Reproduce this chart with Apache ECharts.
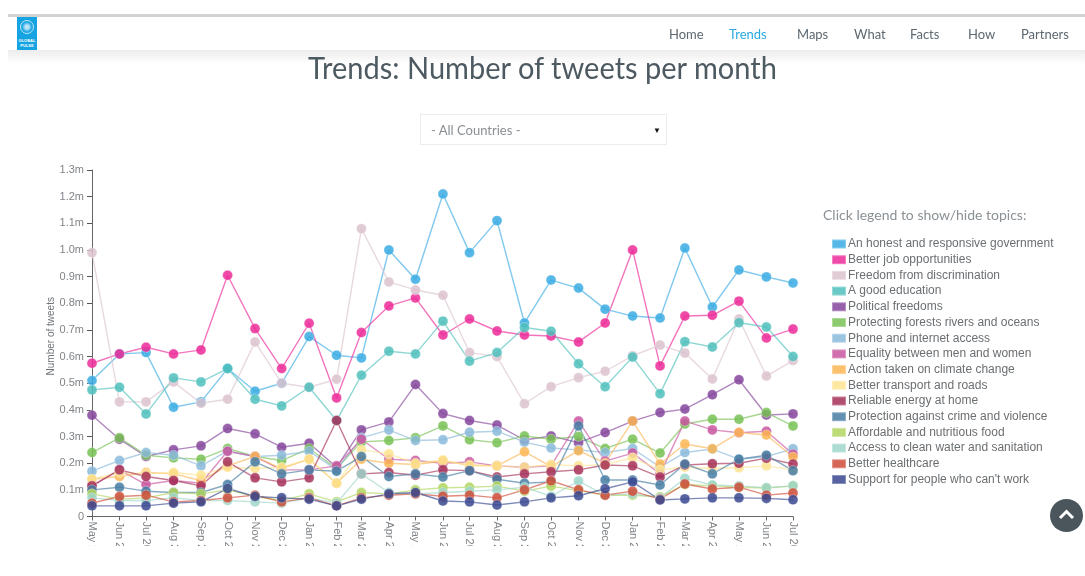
<!DOCTYPE html>
<html>
<head>
<meta charset="utf-8">
<title>Trends</title>
<script src="https://cdn.jsdelivr.net/npm/echarts@6/dist/echarts.min.js"></script>
<style>
html, body { margin: 0; padding: 0; background: #fff; overflow: hidden; }
body { width: 1085px; height: 576px; position: relative; font-family: Lato, sans-serif; }
.topline { position: absolute; left: 8px; right: 0; top: 14px; height: 3px; background: #d2d2d2; }
.shade { position: absolute; left: 8px; right: 0; top: 50px; height: 14px; background: linear-gradient(#ececec, #fff); }
.logo { position: absolute; left: 17px; top: 17px; width: 20px; height: 33px; background: #15a3e2; color: #fff; font: bold 4px/4.5px "Liberation Sans"; text-align: center; }
.logo i { display: block; width: 14px; height: 14px; margin: 3px auto 5px; border: 1px solid #bfe6f8; border-radius: 50%; box-sizing: border-box; background: radial-gradient(#bfe6f8 20%, #15a3e2 60%); }
.nav a { position: absolute; top: 26px; font-size: 13px; line-height: 17px; color: #5d6870; }
.nav a.on { color: #29a9e1; }
h1 { position: absolute; left: 0; width: 1085px; top: 47px; margin: 0; text-align: center; font-size: 31px; line-height: 40px; font-weight: 400; color: #4d5a61; transform: scaleX(.936); }
.sel { position: absolute; left: 420px; top: 114px; width: 247px; height: 31px; box-sizing: border-box; border: 1px solid #ececec; font-size: 13px; line-height: 30px; color: #8a8f93; padding-left: 10px; }
.sel b { position: absolute; right: 5px; top: 0; font-size: 8px; color: #111; }
.hint { position: absolute; left: 823px; top: 206px; font-size: 14px; line-height: 18px; color: #8a9094; }
#chart { position: absolute; left: 0; top: 0; width: 1085px; height: 546px; }
.up { position: absolute; left: 1050px; top: 499px; width: 33px; height: 33px; border-radius: 50%; background: #4b565c; }
.up svg { display: block; }
</style>
</head>
<body>
<div id="chart"></div>
<div class="topline"></div>
<div class="shade"></div>
<div class="logo"><i></i>GLOBAL<br>PULSE</div>
<div class="nav">
  <a style="left:669px">Home</a>
  <a class="on" style="left:729px">Trends</a>
  <a style="left:797px">Maps</a>
  <a style="left:854px">What</a>
  <a style="left:910px">Facts</a>
  <a style="left:968px">How</a>
  <a style="left:1021px">Partners</a>
</div>
<h1>Trends: Number of tweets per month</h1>
<div class="sel">- All Countries -<b>&#9660;</b></div>
<div class="hint">Click legend to show/hide topics:</div>
<div class="up"><svg width="33" height="33"><path d="M10 19 L16.5 12.5 L23 19" fill="none" stroke="#fff" stroke-width="3"/></svg></div>
<script>
const months = ['2013-05-01','2013-06-01','2013-07-01','2013-08-01','2013-09-01','2013-10-01','2013-11-01','2013-12-01',
  '2014-01-01','2014-02-01','2014-03-01','2014-04-01','2014-05-01','2014-06-01','2014-07-01','2014-08-01','2014-09-01','2014-10-01','2014-11-01','2014-12-01',
  '2015-01-01','2015-02-01','2015-03-01','2015-04-01','2015-05-01','2015-06-01','2015-07-01'];
const monthNames = ['Jan','Feb','Mar','Apr','May','Jun','Jul','Aug','Sep','Oct','Nov','Dec'];

// values are in millions of tweets
const honest = [.51,.61,.615,.41,.43,.555,.47,.50,.675,.605,.595,1.0,.89,1.21,.99,1.11,.726,.887,.857,.778,.752,.745,1.007,.786,.925,.899,.876];
const jobs = [.575,.61,.635,.61,.625,.905,.705,.555,.725,.445,.69,.79,.82,.681,.741,.696,.681,.677,.655,.726,1.0,.565,.752,.755,.808,.67,.703];
const freedom = [.99,.43,.43,.505,.425,.44,.655,.50,.485,.515,1.08,.88,.85,.83,.615,.60,.423,.487,.521,.545,.603,.643,.613,.516,.741,.527,.585];
const education = [.475,.485,.385,.52,.505,.555,.44,.415,.485,.36,.53,.62,.61,.733,.583,.615,.709,.695,.573,.487,.598,.461,.656,.636,.727,.711,.60];
const political = [.38,.29,.225,.25,.265,.33,.31,.26,.275,.185,.325,.355,.495,.386,.36,.343,.287,.302,.277,.315,.358,.39,.403,.457,.513,.381,.385];
const forests = [.24,.295,.23,.22,.215,.255,.225,.21,.255,.18,.28,.285,.295,.34,.288,.277,.302,.29,.30,.255,.29,.238,.347,.365,.365,.39,.34];
const phone = [.17,.21,.24,.23,.19,.245,.225,.23,.245,.175,.295,.325,.285,.288,.316,.32,.279,.257,.25,.24,.255,.185,.24,.253,.215,.225,.254];
const equality = [.115,.175,.12,.135,.125,.245,.225,.175,.175,.19,.29,.215,.21,.20,.205,.19,.185,.19,.358,.208,.238,.16,.358,.325,.314,.32,.234];
const climate = [.14,.15,.165,.16,.135,.19,.225,.18,.215,.125,.215,.20,.195,.208,.193,.19,.243,.187,.247,.20,.358,.197,.272,.254,.315,.306,.223];
const transport = [.14,.165,.16,.165,.155,.185,.18,.185,.215,.125,.25,.235,.20,.212,.19,.19,.185,.195,.19,.195,.22,.175,.185,.18,.183,.19,.175];
const energy = [.115,.175,.15,.135,.115,.205,.145,.13,.145,.36,.16,.165,.155,.175,.172,.148,.16,.168,.175,.193,.19,.148,.193,.198,.20,.219,.197];
const crime = [.10,.11,.095,.09,.09,.12,.205,.16,.175,.17,.225,.15,.16,.148,.172,.14,.125,.13,.34,.137,.137,.118,.197,.16,.215,.23,.172];
const food = [.085,.065,.07,.09,.085,.10,.075,.06,.085,.055,.09,.085,.10,.108,.11,.114,.095,.114,.097,.08,.08,.074,.12,.115,.11,.107,.115];
const water = [.07,.06,.06,.07,.06,.06,.055,.05,.07,.05,.16,.09,.085,.09,.095,.10,.11,.076,.133,.08,.085,.07,.143,.118,.115,.108,.115];
const healthcare = [.05,.075,.08,.055,.06,.07,.08,.055,.07,.04,.07,.08,.085,.076,.08,.07,.10,.134,.10,.08,.095,.065,.122,.103,.11,.08,.088];
const support = [.04,.04,.04,.05,.055,.105,.075,.07,.065,.04,.065,.085,.09,.058,.055,.043,.055,.07,.078,.104,.13,.062,.066,.07,.07,.068,.063];

const topics = [
  ['An honest and responsive government', honest, '#3aabe3'],
  ['Better job opportunities', jobs, '#ec2a98'],
  ['Freedom from discrimination', freedom, '#dcc3cf'],
  ['A good education', education, '#4fc0bc'],
  ['Political freedoms', political, '#84459b'],
  ['Protecting forests rivers and oceans', forests, '#78c155'],
  ['Phone and internet access', phone, '#8abada'],
  ['Equality between men and women', equality, '#c9559f'],
  ['Action taken on climate change', climate, '#fbb654'],
  ['Better transport and roads', transport, '#fde491'],
  ['Reliable energy at home', energy, '#a52f58'],
  ['Protection against crime and violence', crime, '#477da3'],
  ['Affordable and nutritious food', food, '#b2d65f'],
  ['Access to clean water and sanitation', water, '#9fd6ca'],
  ['Better healthcare', healthcare, '#cf4c38'],
  ["Support for people who can't work", support, '#38488f']
];

const chart = echarts.init(document.getElementById('chart'));
chart.setOption({
  animation: false,
  grid: { left: 92, right: 292, top: 170, bottom: 29.5, outerBoundsMode: 'none' },
  legend: {
    orient: 'vertical',
    left: 831,
    top: 238,
    padding: 0,
    itemWidth: 14,
    itemHeight: 9,
    itemGap: 3.7,
    icon: 'rect',
    textStyle: { color: '#6b6f72', fontSize: 12, fontFamily: 'Liberation Sans', lineHeight: 12, padding: [0, 0, 0, -3] },
    data: topics.map(t => t[0])
  },
  xAxis: {
    type: 'time',
    min: months[0],
    max: months[months.length - 1],
    splitNumber: 26,
    minInterval: 28 * 86400000,
    splitLine: { show: false },
    axisLine: { lineStyle: { color: '#666', width: 1 } },
    axisTick: { show: true, length: 4, lineStyle: { color: '#666' } },
    axisLabel: {
      rotate: -90,
      interval: 0,
      hideOverlap: false,
      showMinLabel: true,
      showMaxLabel: true,
      margin: 5,
      color: '#808488',
      fontSize: 11,
      fontFamily: 'Liberation Sans',
      formatter: val => {
        const d = new Date(val);
        return monthNames[d.getMonth()] + ' ' + d.getFullYear();
      }
    }
  },
  yAxis: {
    type: 'value',
    min: 0,
    max: 1.3,
    interval: 0.1,
    name: 'Number of tweets',
    nameLocation: 'middle',
    nameGap: 36,
    nameMoveOverlap: false,
    nameTextStyle: { color: '#6f7478', fontSize: 10, fontFamily: 'Liberation Sans', padding: [0, 0, 0, 14] },
    splitLine: { show: false },
    axisLine: { show: true, lineStyle: { color: '#666', width: 1 } },
    axisTick: { show: true, length: 5, lineStyle: { color: '#555' } },
    axisLabel: {
      margin: 8,
      color: '#808488',
      fontSize: 11,
      fontFamily: 'Liberation Sans',
      formatter: val => val === 0 ? '0' : val.toFixed(1) + 'm'
    }
  },
  series: topics.map(t => ({
    name: t[0],
    type: 'line',
    data: months.map((m, i) => [m, t[1][i]]),
    clip: false,
    showAllSymbol: true,
    symbol: 'circle',
    symbolSize: 10,
    color: t[2],
    lineStyle: { width: 1.4, opacity: 0.65 },
    itemStyle: { opacity: 0.85, borderColor: 'rgba(255,255,255,0.35)', borderWidth: 1 },
    emphasis: { disabled: true }
  }))
});
</script>
</body>
</html>
